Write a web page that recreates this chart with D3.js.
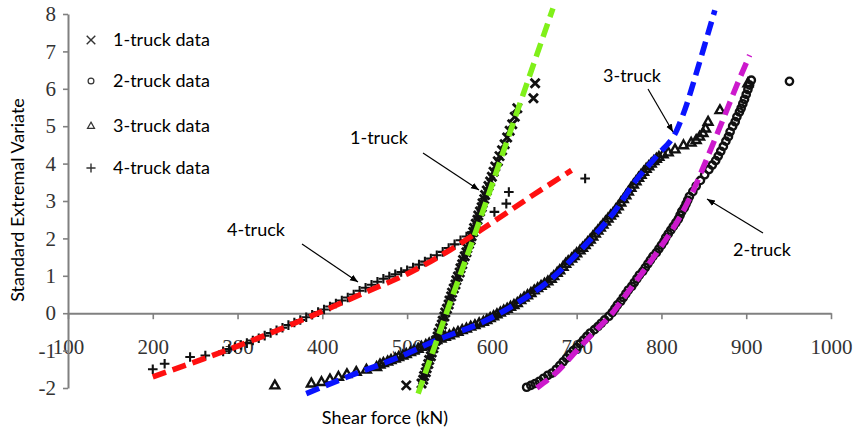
<!DOCTYPE html>
<html>
<head>
<meta charset="utf-8">
<script src="https://cdn.jsdelivr.net/npm/d3@7"></script>
<style>
  body { margin: 0; background: #fff; }
  svg { display: block; }
</style>
</head>
<body>
<svg id="chart" width="858" height="432"></svg>
<script>
// ---- axis ticks ----
const xTicks = [100, 200, 300, 400, 500, 600, 700, 800, 900, 1000];
const yTicks = [-2, -1, 0, 1, 2, 3, 4, 5, 6, 7, 8];

// ---- series names ----
const seriesNames = ["1-truck data", "2-truck data", "3-truck data", "4-truck data"];
const fitNames = ["1-truck", "2-truck", "3-truck", "4-truck"];

// ---- observed data: [shear force kN, standard extremal variate] ----
const truck1Data = [
  [499,-1.93],[517,-1.88],[519,-1.78],[520,-1.68],[522,-1.58],[523,-1.47],[525,-1.36],[526,-1.25],
  [528,-1.15],[529,-1.05],[531,-0.94],[532,-0.84],[534,-0.73],[536,-0.62],[537,-0.52],[539,-0.41],
  [541,-0.30],[542,-0.20],[544,-0.09],[545,0.02],[547,0.12],[549,0.23],[550,0.34],[552,0.45],
  [553,0.55],[555,0.66],[557,0.77],[558,0.88],[560,0.98],[562,1.09],[563,1.20],[565,1.31],
  [566,1.42],[568,1.52],[570,1.63],[571,1.74],[573,1.85],[575,1.96],[576,2.06],[578,2.17],
  [579,2.28],[581,2.39],[583,2.50],[584,2.61],[586,2.72],[588,2.83],[589,2.94],[591,3.05],
  [592,3.16],[594,3.28],[596,3.40],[598,3.52],[600,3.65],[602,3.78],[604,3.92],[607,4.06],
  [609,4.20],[612,4.36],[615,4.52],[618,4.70],[621,4.88],[624,5.05],[627,5.25],[630,5.48],
  [649,5.75],[651,6.15]
];
const truck2Data = [
  [641,-1.98],[646,-1.93],[651,-1.88],[656,-1.82],[661,-1.74],[666,-1.66],[671,-1.60],[676,-1.50],
  [680,-1.40],[684,-1.30],[688,-1.20],[692,-1.10],[696,-1.00],[700,-0.92],[704,-0.82],[708,-0.72],
  [712,-0.62],[716,-0.53],[721,-0.44],[725,-0.36],[729,-0.27],[733,-0.18],[738,-0.08],[742,0.02],
  [745,0.12],[748,0.22],[752,0.32],[755,0.42],[758,0.52],[761,0.62],[765,0.72],[768,0.82],
  [771,0.92],[774,1.02],[778,1.12],[781,1.22],[784,1.32],[787,1.42],[790,1.52],[794,1.62],
  [797,1.72],[800,1.82],[803,1.92],[805,2.02],[808,2.12],[811,2.22],[814,2.32],[817,2.42],
  [820,2.52],[822,2.62],[824,2.72],[827,2.82],[829,2.92],[831,3.02],[833,3.12],[837,3.25],
  [841,3.40],[846,3.55],[851,3.70],[856,3.84],[860,3.96],[864,4.08],[867,4.20],[870,4.33],
  [873,4.46],[876,4.60],[879,4.72],[881,4.85],[884,5.00],[887,5.12],[889,5.25],[892,5.38],
  [894,5.48],[896,5.60],[898,5.72],[900,5.85],[902,5.98],[904,6.10],[906,6.23],[951,6.20]
];
const truck3Data = [
  [344,-1.93],[387,-1.88],[399,-1.84],[409,-1.77],[419,-1.70],[429,-1.63],[440,-1.57],[452,-1.51],
  [464,-1.44],[468,-1.37],[472,-1.33],[477,-1.29],[481,-1.25],[486,-1.21],[490,-1.17],[495,-1.13],
  [499,-1.09],[504,-1.04],[508,-1.00],[513,-0.95],[517,-0.90],[522,-0.85],[526,-0.81],[531,-0.76],
  [535,-0.72],[540,-0.68],[545,-0.63],[550,-0.59],[555,-0.54],[560,-0.50],[565,-0.45],[570,-0.41],
  [575,-0.36],[580,-0.32],[585,-0.27],[590,-0.23],[594,-0.18],[598,-0.13],[602,-0.08],[606,-0.03],
  [610,0.02],[614,0.07],[618,0.12],[622,0.17],[626,0.22],[630,0.27],[634,0.35],[638,0.42],
  [642,0.48],[646,0.54],[650,0.61],[654,0.67],[658,0.73],[662,0.79],[666,0.85],[670,0.92],
  [673,0.99],[677,1.08],[680,1.15],[684,1.24],[687,1.32],[690,1.39],[694,1.46],[697,1.53],
  [700,1.60],[704,1.68],[707,1.75],[710,1.82],[713,1.90],[716,1.97],[719,2.05],[722,2.13],
  [725,2.21],[728,2.29],[731,2.37],[734,2.45],[737,2.53],[740,2.61],[743,2.68],[746,2.77],
  [749,2.86],[752,2.96],[755,3.05],[758,3.15],[761,3.25],[764,3.35],[767,3.44],[770,3.53],
  [773,3.62],[776,3.70],[779,3.78],[782,3.86],[785,3.93],[788,4.00],[791,4.07],[794,4.13],
  [797,4.18],[802,4.25],[808,4.30],[816,4.38],[826,4.49],[835,4.56],[841,4.63],[845,4.72],
  [849,4.82],[852,4.94],[855,5.12],[869,5.43],[902,6.15]
];
const truck4Data = [
  [200,-1.50],[214,-1.35],[244,-1.17],[262,-1.13],[283,-1.02],[290,-0.96],[297,-0.91],[304,-0.85],
  [311,-0.80],[318,-0.73],[325,-0.67],[332,-0.60],[339,-0.53],[346,-0.46],[353,-0.39],[360,-0.32],
  [367,-0.25],[374,-0.18],[381,-0.11],[388,-0.04],[395,0.03],[402,0.10],[409,0.18],[416,0.26],
  [423,0.34],[430,0.42],[437,0.50],[444,0.60],[451,0.68],[458,0.76],[465,0.84],[472,0.92],
  [479,0.98],[486,1.04],[493,1.10],[500,1.15],[507,1.22],[514,1.30],[521,1.38],[528,1.46],
  [535,1.55],[542,1.64],[549,1.74],[556,1.84],[563,1.95],[570,2.05],[577,2.16],[603,2.71],
  [617,2.93],[620,3.24],[710,3.60]
];

// ---- fitted distributions ----
const fit1 = [[513,-2.15],[545,-0.08],[582,2.25],[617,4.55],[672,8.15]];
const fit2 = [[653,-2.0],[680,-1.5],[700,-1.0],[720,-0.52],[742,0],[760,0.55],[778,1.1],[800,1.8],
              [820,2.5],[837,3.25],[853,4.1],[873,5.2],[889,6.1],[904,6.9]];
const fit3 = [[381,-2.15],[440,-1.61],[491,-1.17],[535,-0.72],[590,-0.23],[629,0.26],[668,0.88],
              [708,1.77],[743,2.67],[770,3.55],[795,4.22],[818,4.89],[830,5.6],[841,6.41],[852,7.25],[863,8.10]];
const fit4 = [[200,-1.70],[250,-1.30],[300,-0.88],[350,-0.43],[400,0.05],[450,0.55],[500,1.05],
              [550,1.68],[600,2.42],[650,3.18],[694,3.82]];

const svg = d3.select("#chart");
const W = 858, H = 432;
svg.append("rect").attr("width", W).attr("height", H).attr("fill", "#fff");

const x = d3.scaleLinear().domain([100, 1000]).range([68, 831]);
const y = d3.scaleLinear().domain([-2, 8]).range([388, 14]);

const axisColor = "#808080";
const tickFont = "'Liberation Serif', 'Times New Roman', serif";
const sansFont = "Lato, 'Open Sans', sans-serif";

// x axis along y = 0
const gx = svg.append("g")
  .attr("transform", `translate(0,${y(0)})`)
  .call(d3.axisBottom(x).tickValues(xTicks).tickSize(6).tickSizeOuter(0).tickPadding(20)
        .tickFormat(d => String(d)));
// y axis
const gy = svg.append("g")
  .attr("transform", `translate(${x(100)},0)`)
  .call(d3.axisLeft(y).tickValues(yTicks).tickSize(5).tickSizeOuter(0).tickPadding(7)
        .tickFormat(d => String(d)));

[gx, gy].forEach(g => {
  g.select(".domain").attr("stroke", axisColor).attr("stroke-width", 2);
  g.selectAll(".tick line").attr("stroke", axisColor).attr("stroke-width", 1.6);
  g.selectAll(".tick text").attr("fill", "#333").style("font-family", tickFont).style("font-size", "21px");
});

// marker shapes
const markerPath = {
  times: "M-4.5,-4.5L4.5,4.5M-4.5,4.5L4.5,-4.5",
  plus: "M-4.8,0H4.8M0,-4.8V4.8",
  triangle: "M0,-4.8L4.4,3L-4.4,3Z",
  circle: d3.symbol().type(d3.symbolCircle).size(42)()
};
const dataSets = [
  { data: truck1Data, shape: "times", width: 2.8 },
  { data: truck2Data, shape: "circle", width: 2.4 },
  { data: truck3Data, shape: "triangle", width: 2.4 },
  { data: truck4Data, shape: "plus", width: 2.1 }
];

const gData = svg.append("g");
dataSets.forEach(s => {
  gData.append("g").selectAll("path").data(s.data).join("path")
    .attr("d", markerPath[s.shape])
    .attr("transform", d => `translate(${x(d[0])},${y(d[1])})`)
    .attr("fill", "none")
    .attr("stroke", "#111")
    .attr("stroke-width", s.width);
});

// fitted dashed curves
const line = d3.line().x(d => x(d[0])).y(d => y(d[1])).curve(d3.curveMonotoneX);
const fits = [
  { data: fit4, color: "#ff1010" },
  { data: fit3, color: "#0a14ff" },
  { data: fit2, color: "#cc19cc" },
  { data: fit1, color: "#80f01a" }
];
fits.forEach(f => {
  svg.append("path").datum(f.data)
    .attr("d", line)
    .attr("fill", "none")
    .attr("stroke", f.color)
    .attr("stroke-width", 5.5)
    .attr("stroke-dasharray", "14,7");
});

// arrowhead
svg.append("defs").append("marker")
  .attr("id", "arrow").attr("viewBox", "0 0 10 10")
  .attr("refX", 10).attr("refY", 5)
  .attr("markerWidth", 8).attr("markerHeight", 8)
  .attr("markerUnits", "userSpaceOnUse")
  .attr("orient", "auto")
  .append("path").attr("d", "M0,1L10,5L0,9Z").attr("fill", "#000");

// curve annotations
const notes = [
  { text: fitNames[0], tx: 379, ty: 144, from: [423, 153], to: [479, 190] },
  { text: fitNames[3], tx: 256, ty: 236, from: [302, 244], to: [358, 282] },
  { text: fitNames[2], tx: 632, ty: 82, from: [648, 89], to: [673, 132] },
  { text: fitNames[1], tx: 762, ty: 256, from: [763, 233], to: [707, 199] }
];
notes.forEach(n => {
  svg.append("line")
    .attr("x1", n.from[0]).attr("y1", n.from[1])
    .attr("x2", n.to[0]).attr("y2", n.to[1])
    .attr("stroke", "#000").attr("stroke-width", 1.2)
    .attr("marker-end", "url(#arrow)");
  svg.append("text").attr("x", n.tx).attr("y", n.ty)
    .attr("text-anchor", "middle")
    .style("font-family", sansFont).style("font-size", "18px")
    .attr("fill", "#000").text(n.text);
});

// legend
const legendRows = [40, 81, 126, 168];
const legendShapes = ["times", "circle", "triangle", "plus"];
seriesNames.forEach((name, i) => {
  const scale = legendShapes[i] === "circle" || legendShapes[i] === "triangle" ? 0.8 : 0.95;
  svg.append("path")
    .attr("d", markerPath[legendShapes[i]])
    .attr("transform", `translate(91,${legendRows[i]}) scale(${scale})`)
    .attr("fill", "none").attr("stroke", "#333").attr("stroke-width", 1.5);
  svg.append("text").attr("x", 113).attr("y", legendRows[i] + 6)
    .style("font-family", sansFont).style("font-size", "18px")
    .attr("fill", "#000").text(name);
});

// axis titles
svg.append("text")
  .attr("x", 385).attr("y", 424)
  .attr("text-anchor", "middle")
  .style("font-family", sansFont).style("font-size", "18px")
  .text("Shear force (kN)");
svg.append("text")
  .attr("transform", "translate(24,200) rotate(-90)")
  .attr("text-anchor", "middle")
  .style("font-family", sansFont).style("font-size", "18px")
  .text("Standard Extremal Variate");
</script>
</body>
</html>
